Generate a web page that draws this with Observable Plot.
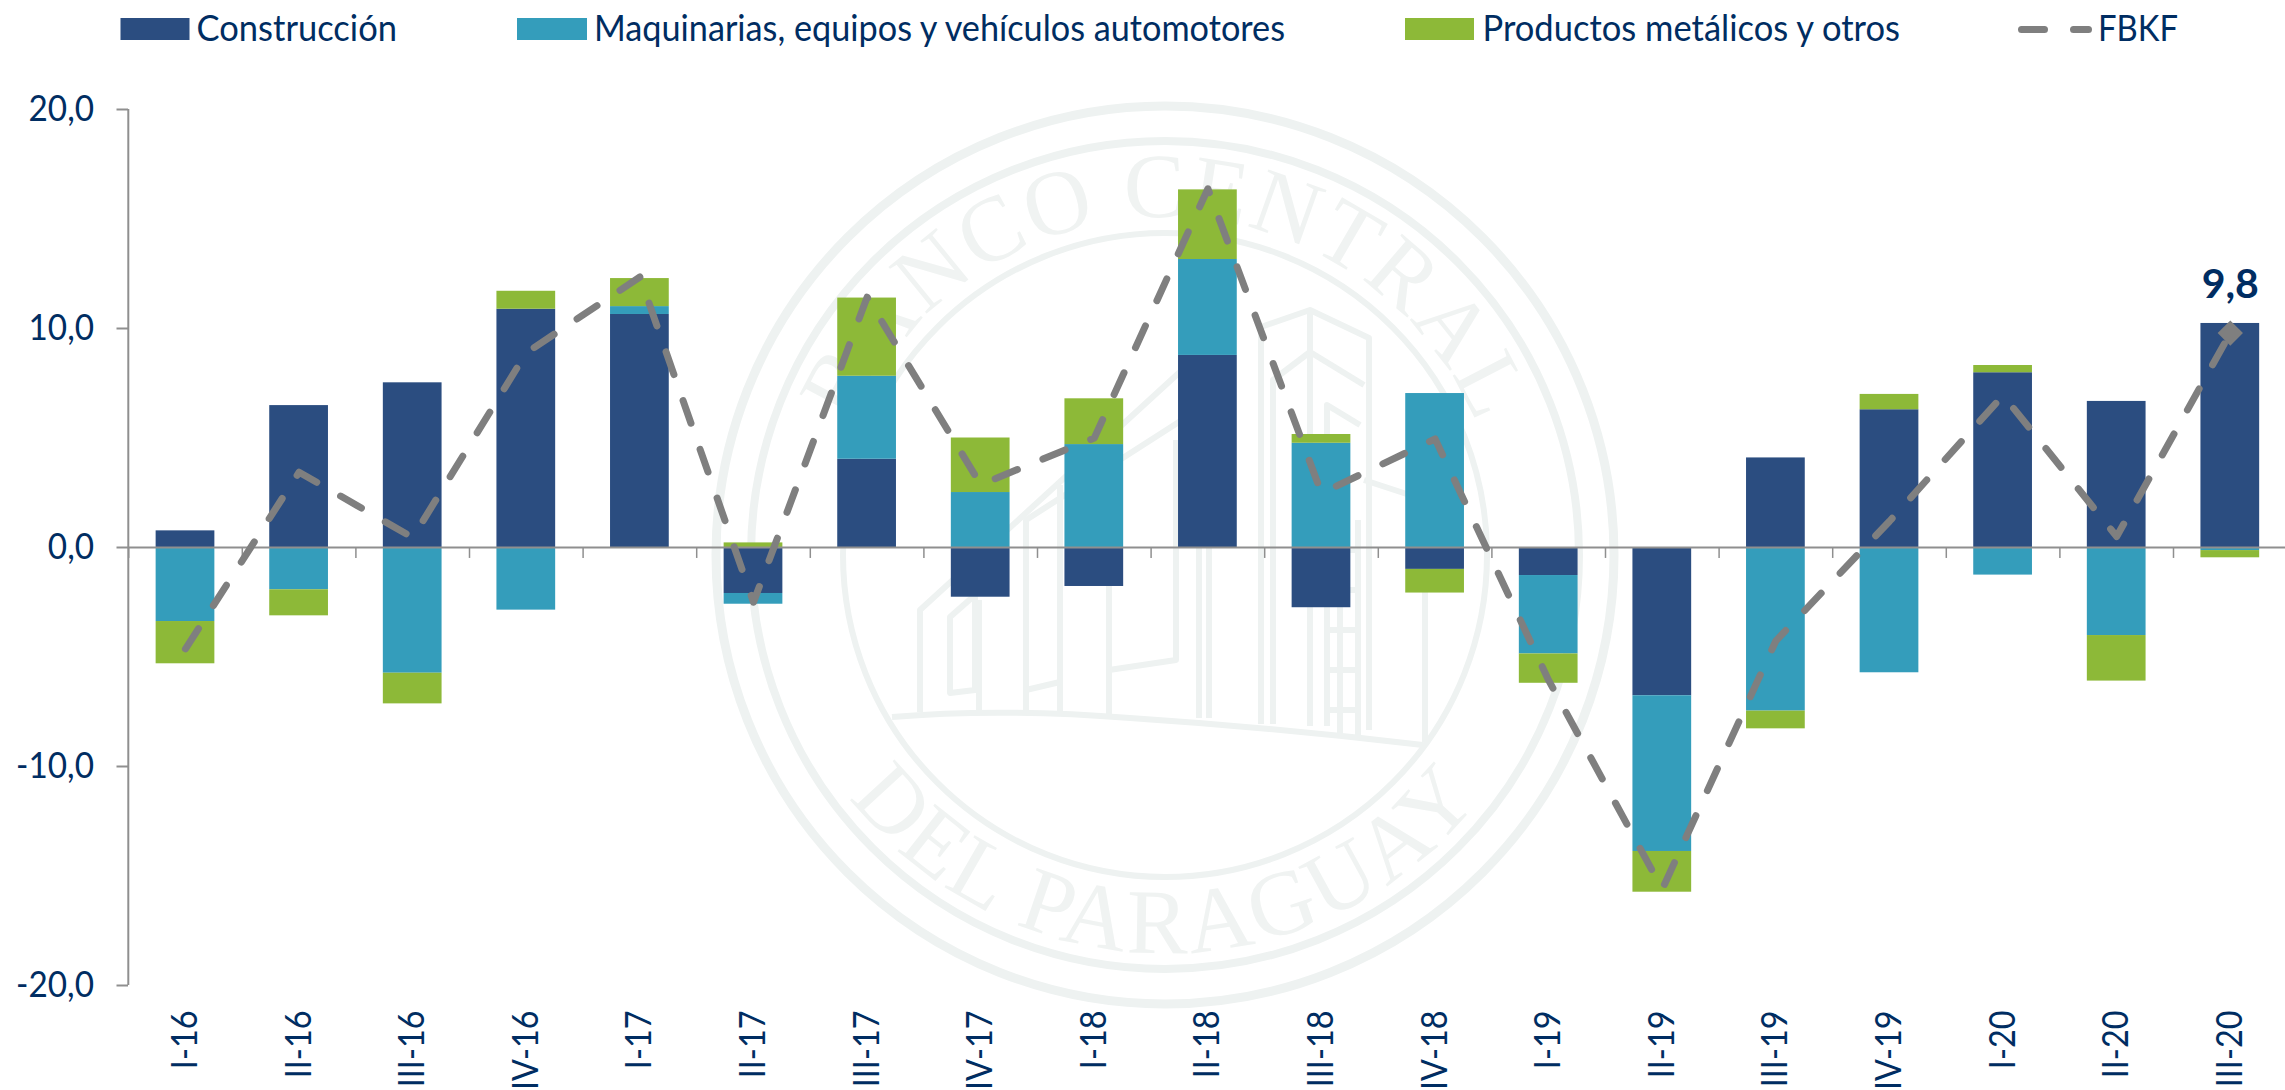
<!DOCTYPE html>
<html lang="es">
<head>
<meta charset="utf-8">
<script src="https://cdn.jsdelivr.net/npm/d3@7"></script>
<script src="https://cdn.jsdelivr.net/npm/@observablehq/plot@0.6"></script>
<style>
  html, body { margin: 0; padding: 0; background: #fff; width: 2285px; height: 1090px; overflow: hidden; }
  #page { position: relative; width: 2285px; height: 1090px; font-family: Lato, sans-serif; }
  #seal { position: absolute; left: 0; top: 0; }
  #legend { position: absolute; left: 0; top: 0; display: block; }
  #chart { position: absolute; left: 0; top: 60px; }
  #chart svg { background: transparent; display: block; }
</style>
</head>
<body>
<div id="page">
  <svg id="seal" width="2285" height="1090" aria-hidden="true">
    <defs>
      <path id="arcTop" d="M 827 555 A 338 338 0 0 1 1503 555"/>
      <path id="arcBottom" d="M 767 555 A 398 398 0 0 0 1563 555"/>
    </defs>
    <g fill="none" stroke="#eef2f1">
      <circle cx="1165" cy="555" r="449" stroke-width="9"/>
      <circle cx="1165" cy="555" r="414" stroke-width="8"/>
      <circle cx="1165" cy="555" r="322" stroke-width="6"/>
      <g stroke-width="6" stroke-linejoin="round">
        <path d="M 892 717 Q 1000 708 1130 718 Q 1280 728 1423 745"/>
        <path d="M 920 712 V 610 L 1182 370"/>
        <path d="M 950 693 V 617 L 975 595 V 690 Z"/>
        <path d="M 979 714 V 600 M 1026 714 V 520 L 1182 420 M 1060 714 V 485 M 1109 714 V 450"/>
        <path d="M 1026 690 L 1060 682 M 1109 670 L 1176 660 V 440"/>
        <path d="M 1199 718 V 360 M 1209 718 V 360 M 1261 724 V 327 L 1310 310 L 1369 338 V 730"/>
        <path d="M 1273 724 V 380 L 1310 352 L 1364 385 M 1310 310 V 726"/>
        <path d="M 1327 726 V 405 L 1360 425 M 1364 480 L 1425 500 V 742"/>
        <path d="M 1340 735 V 520 M 1358 738 V 520 M 1327 550 H 1358 M 1327 590 H 1358 M 1327 630 H 1358 M 1327 670 H 1358 M 1327 710 H 1358"/>
      </g>
    </g>
    <g fill="#f0f3f2" font-family="'Liberation Serif', serif" font-size="92">
      <text letter-spacing="2"><textPath href="#arcTop" startOffset="50%" text-anchor="middle">BANCO CENTRAL</textPath></text>
      <text letter-spacing="3"><textPath href="#arcBottom" startOffset="50%" text-anchor="middle">DEL PARAGUAY</textPath></text>
    </g>
  </svg>
  <div id="chart"></div>
  <svg id="legend" width="2285" height="60"></svg>
</div>
<script>
const periods = ["I-16","II-16","III-16","IV-16","I-17","II-17","III-17","IV-17","I-18","II-18","III-18","IV-18","I-19","II-19","III-19","IV-19","I-20","II-20","III-20"];
const construccion = [0.76,6.48,7.52,10.88,10.64,-2.10,4.03,-2.27,-1.78,8.77,-2.75,-1.00,-1.28,-6.77,4.09,6.29,7.98,6.67,10.23];
const maquinarias = [-3.38,-1.93,-5.74,-2.86,0.36,-0.49,3.79,2.51,4.70,4.38,4.76,7.03,-3.58,-7.11,-7.47,-5.72,-1.26,-4.02,-0.14];
const productos = [-1.93,-1.19,-1.40,0.82,1.28,0.21,3.57,2.49,2.09,3.18,0.40,-1.08,-1.34,-1.86,-0.81,0.70,0.33,-2.08,-0.33];
const fbkf = [-4.63,3.44,0.45,8.89,12.35,-2.5,11.43,2.87,5.0,16.38,2.48,4.96,-6.07,-15.6,-4.26,1.2,6.95,0.5,9.79];
const seriesNames = ["Construcción","Maquinarias, equipos y vehículos automotores","Productos metálicos y otros"];
const seriesColors = ["#2b4d80","#349dbb","#8db938"];
const lineName = "FBKF";
const lineColor = "#7f7f7f";
const textColor = "#002d62";
const axisColor = "#8f8f8f";
const yTicks = [-20,-10,0,10,20];
const lastLabel = "9,8";

const seriesValues = [construccion, maquinarias, productos];
const stacked = seriesNames.flatMap((name, s) => periods.map((period, i) => ({period, name, value: seriesValues[s][i]})));
const line = periods.map((period, i) => ({period, value: fbkf[i]}));
const lastPoint = line.slice(-1);

const plot = Plot.plot({
  width: 2285,
  height: 1030,
  marginTop: 49,
  marginBottom: 105,
  marginLeft: 128,
  marginRight: 0,
  style: {background: "transparent", fontFamily: "Lato, sans-serif", overflow: "visible"},
  x: {type: "band", domain: periods, range: [128.2, 2286.6], paddingInner: 0.483, paddingOuter: 0.2415, round: false, label: null},
  y: {domain: [-20, 20], label: null},
  color: {domain: seriesNames, range: seriesColors},
  marks: [
    Plot.barY(stacked, {x: "period", y: "value", fill: "name", order: null}),
    Plot.ruleX(periods, {x: d => d, y1: 0, y2: -0.5, dx: -56.8, stroke: axisColor, strokeWidth: 1.5}),
    Plot.ruleY([0], {stroke: axisColor, strokeWidth: 2}),
    Plot.ruleX(periods.slice(0, 1), {x: d => d, y1: -20, y2: 20, dx: -57.2, stroke: axisColor, strokeWidth: 2}),
    Plot.axisY({
      ticks: yTicks,
      tickSize: 11.5,
      tickPadding: 23,
      stroke: axisColor,
      strokeWidth: 2,
      color: textColor,
      fontSize: 37,
      tickFormat: d => d.toFixed(1).replace(".", ","),
      label: null
    }),
    Plot.axisX({
      tickSize: 0,
      tickPadding: 25,
      tickRotate: -90,
      color: textColor,
      fontSize: 36,
      label: null
    }),
    Plot.line(line, {
      x: "period", y: "value", stroke: lineColor, strokeWidth: 7,
      strokeLinecap: "round", strokeLinejoin: "round", strokeDasharray: "24 27.6"
    }),
    Plot.dot(lastPoint, {x: "period", y: "value", symbol: "diamond2", r: 11.4, fill: lineColor, stroke: "none"}),
    Plot.text(lastPoint, {
      x: "period", y: "value", text: () => lastLabel, dy: -48.5,
      fill: textColor, fontSize: 41, fontWeight: 700
    })
  ]
});
document.getElementById("chart").append(plot);

// Narrow the Lato tick labels to the condensed set width of the reference's typeface.
plot.querySelectorAll("[aria-label='y-axis tick label'] text, [aria-label='x-axis tick label'] text").forEach(t => {
  t.setAttribute("textLength", (t.getComputedTextLength() * 0.9).toFixed(1));
  t.setAttribute("lengthAdjust", "spacingAndGlyphs");
});

const legend = d3.select("#legend");
const legendFont = 37;
const legendLayout = [
  {swatch: [120.5, 189.5], text: [196.5, 397]},
  {swatch: [517, 587], text: [594, 1285]},
  {swatch: [1405, 1474], text: [1482.5, 1900]}
];
seriesNames.forEach((name, i) => {
  const l = legendLayout[i];
  legend.append("rect").attr("x", l.swatch[0]).attr("y", 18).attr("width", l.swatch[1] - l.swatch[0]).attr("height", 22).attr("fill", seriesColors[i]);
  legend.append("text").attr("x", l.text[0]).attr("y", 41).attr("fill", textColor)
    .attr("font-family", "Lato, sans-serif").attr("font-size", legendFont)
    .attr("textLength", l.text[1] - l.text[0]).attr("lengthAdjust", "spacingAndGlyphs").text(name);
});
legend.append("line").attr("x1", 2021.5).attr("x2", 2088.5).attr("y1", 29.5).attr("y2", 29.5)
  .attr("stroke", lineColor).attr("stroke-width", 7).attr("stroke-linecap", "round").attr("stroke-dasharray", "23 29");
legend.append("text").attr("x", 2098).attr("y", 41).attr("fill", textColor)
  .attr("font-family", "Lato, sans-serif").attr("font-size", legendFont)
  .attr("textLength", 80).attr("lengthAdjust", "spacingAndGlyphs").text(lineName);
</script>
</body>
</html>
